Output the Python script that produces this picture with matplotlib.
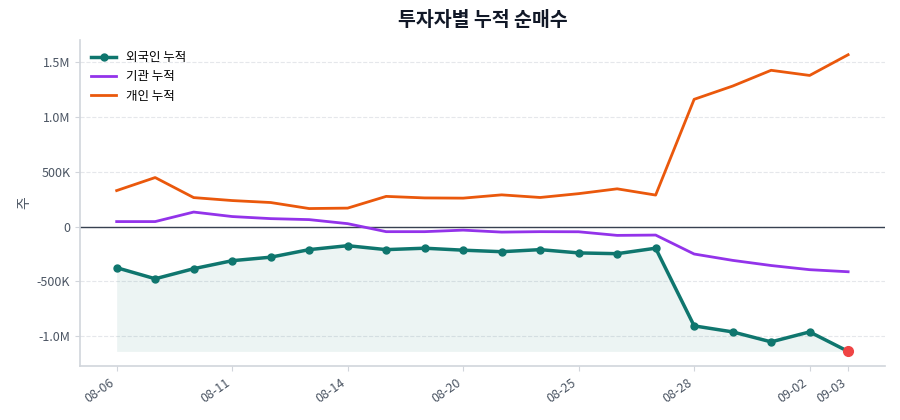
import matplotlib
matplotlib.use("Agg")
import matplotlib.pyplot as plt
from matplotlib.ticker import FuncFormatter, MultipleLocator

plt.rcParams['font.family'] = ['Noto Sans CJK KR', 'DejaVu Sans']

# Trading dates and cumulative net buying (shares)
dates = ['08-06', '08-07', '08-08', '08-11', '08-12', '08-13', '08-14', '08-18', '08-19', '08-20',
         '08-21', '08-22', '08-25', '08-26', '08-27', '08-28', '08-29', '09-01', '09-02', '09-03']
foreign = [-375000, -476000, -384000, -311000, -279000, -210000, -174000, -210000, -197000, -215000,
           -229000, -210000, -240000, -247000, -197000, -906000, -961000, -1052000, -961000, -1139000]
institution = [46000, 46000, 133000, 92000, 73000, 64000, 27000, -46000, -46000, -32000,
               -50000, -46000, -47000, -80000, -77000, -250000, -308000, -355000, -393000, -412000]
individual = [329000, 448000, 265000, 238000, 220000, 165000, 169000, 276000, 262000, 260000,
              290000, 266000, 301000, 345000, 288000, 1162000, 1283000, 1427000, 1380000, 1569000]
tick_idx = [0, 3, 6, 9, 12, 15, 18, 19]

x = list(range(len(dates)))

fig, ax = plt.subplots(figsize=(9, 4.2), dpi=100)
fig.subplots_adjust(left=0.089, right=0.983, top=0.905, bottom=0.128)

ax.fill_between(x, foreign, min(foreign), color='#0f766e', alpha=0.08, linewidth=0)
ax.plot(x, foreign, color='#0f766e', linewidth=2.5, marker='o', markersize=5, label='외국인 누적', zorder=3)
ax.plot(x, institution, color='#9333ea', linewidth=2, label='기관 누적', zorder=2)
ax.plot(x, individual, color='#ea580c', linewidth=2, label='개인 누적', zorder=2)
ax.plot(x[-1], foreign[-1], 'o', color='#ef4444', markersize=7, zorder=4)

ax.axhline(0, color='#374151', linewidth=1, zorder=1)

def fmt(v, pos):
    if v == 0:
        return '0'
    if abs(v) >= 1e6:
        return f'{v / 1e6:.1f}M'
    return f'{v / 1e3:.0f}K'

ax.yaxis.set_major_locator(MultipleLocator(500000))
ax.yaxis.set_major_formatter(FuncFormatter(fmt))
ax.set_xticks(tick_idx)
ax.set_xticklabels([dates[i] for i in tick_idx], rotation=35, ha='right')

ax.grid(axis='y', linestyle='--', color='#e5e7eb', linewidth=0.8)
ax.set_axisbelow(True)
for s in ['top', 'right']:
    ax.spines[s].set_visible(False)
for s in ['left', 'bottom']:
    ax.spines[s].set_color('#d1d5db')
    ax.spines[s].set_linewidth(1.2)
ax.tick_params(colors='#d1d5db', labelcolor='#4b5563', labelsize=9)

ax.set_ylabel('주', color='#4b5563', fontsize=10)
ax.set_title('투자자별 누적 순매수', fontsize=14, fontweight='bold', color='#111827', pad=10)
ax.legend(loc='upper left', frameon=False, fontsize=9)

plt.savefig('out.png', dpi=100)
